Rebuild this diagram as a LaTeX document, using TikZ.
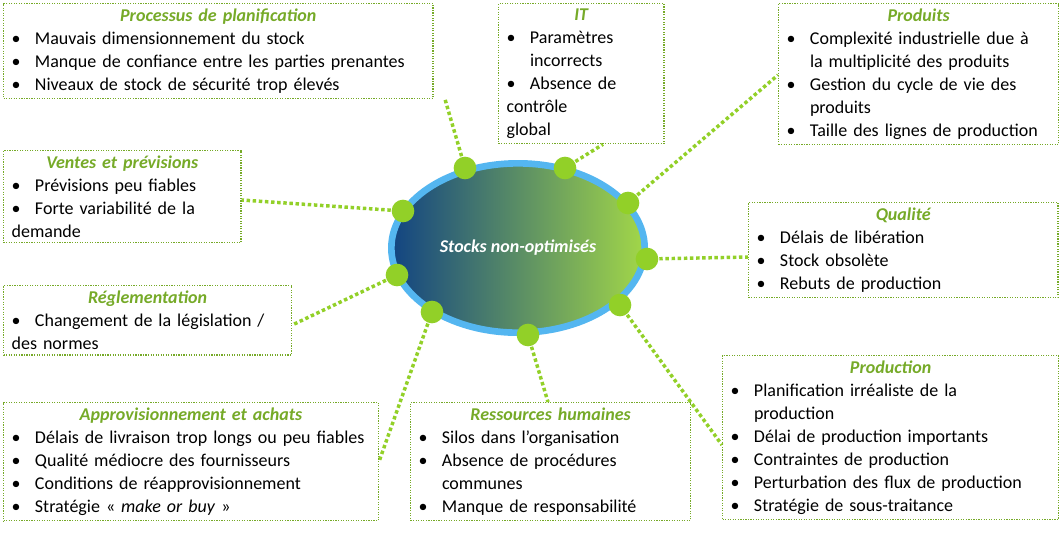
\documentclass[tikz,border=0pt]{standalone}
\usepackage{fontspec}
\setmainfont{Carlito}
\usetikzlibrary{shapes.geometric,backgrounds}
\definecolor{leaf}{RGB}{118,170,40}
\definecolor{dotgreen}{RGB}{146,208,40}
\definecolor{deepblue}{RGB}{18,68,130}
\definecolor{rimblue}{RGB}{84,182,240}
\hyphenpenalty=10000
\newcommand{\itm}[1]{\par\hangindent=1.3em\hangafter=1\noindent\makebox[1.3em][l]{\textbullet}#1}
\newcommand{\ttl}[1]{{\centering\bfseries\itshape\color{leaf}#1\par}}
\tikzset{
  box/.style={draw=leaf, densely dotted, line width=0.9pt, anchor=north west,
    inner xsep=6pt, inner ysep=4pt,
    font=\fontsize{13.5pt}{17.2pt}\selectfont,
    align=left},
  link/.style={draw=dotgreen, line width=2.6pt, dotted},
  knob/.style={circle, fill=dotgreen, minimum size=17pt, inner sep=0pt}
}
\begin{document}
\begin{tikzpicture}[x=0.75pt,y=-0.75pt]
\useasboundingbox (0,0) rectangle (1060,537);
% boxes
\node[box, text width=310pt] (plan) at (3,3) {\ttl{Processus de planification}%
  \itm{Mauvais dimensionnement du stock}\itm{Manque de confiance entre les parties prenantes}\itm{Niveaux de stock de sécurité trop élevés}};
\node[box, text width=112pt] (it) at (498,3) {\ttl{IT}%
  \itm{Paramètres incorrects}\itm{Absence de contrôle\newline global}};
\node[box, text width=198pt] (prod) at (778,3) {\ttl{Produits}%
  \itm{Complexité industrielle due à\newline la multiplicité des produits}\itm{Gestion du cycle de vie des\newline produits}\itm{Taille des lignes de production}};
\node[box, text width=166pt] (vente) at (3,150) {\ttl{Ventes et prévisions}%
  \itm{Prévisions peu fiables}\itm{Forte variabilité de la\newline demande}};
\node[box, text width=220pt] (qual) at (748,202) {\ttl{Qualité}%
  \itm{Délais de libération}\itm{Stock obsolète}\itm{Rebuts de production}};
\node[box, text width=204pt] (regl) at (3,285) {\ttl{Réglementation}%
  \itm{Changement de la législation /\newline des normes}};
\node[box, text width=269pt] (appro) at (3,402) {\ttl{Approvisionnement et achats}%
  \itm{Délais de livraison trop longs ou peu fiables}\itm{Qualité médiocre des fournisseurs}\itm{Conditions de réapprovisionnement}\itm{Stratégie « \textit{make or buy} »}};
\node[box, text width=198pt] (rh) at (410,402) {\ttl{Ressources humaines}%
  \itm{Silos dans l'organisation}\itm{Absence de procédures\newline communes}\itm{Manque de responsabilité}};
\node[box, text width=240pt] (fab) at (722,355) {\ttl{Production}%
  \itm{Planification irréaliste de la\newline production}\itm{Délai de production importants}\itm{Contraintes de production}\itm{Perturbation des flux de production}\itm{Stratégie de sous-traitance}};
% centre
\node[ellipse, draw=rimblue, line width=5pt, minimum width=190pt, minimum height=127pt,
  left color=deepblue, right color=dotgreen!85!white, text=white,
  font=\fontsize{13.5pt}{15pt}\selectfont\bfseries\itshape] (core) at (518,248) {Stocks non-optimisés};
% knobs
\node[knob] (k1) at (465,168) {};
\node[knob] (k2) at (565,168) {};
\node[knob] (k3) at (628,203) {};
\node[knob] (k4) at (647,259) {};
\node[knob] (k5) at (620,305) {};
\node[knob] (k6) at (528,335) {};
\node[knob] (k7) at (432,312) {};
\node[knob] (k8) at (397,275) {};
\node[knob] (k9) at (403,211) {};
% links
\begin{scope}[on background layer]
\draw[link] (k1.center) -- (plan.south -| 445,0);
\draw[link] (k2.center) -- (it.south -| 603,0);
\draw[link] (k3.center) -- (prod.west |- 0,75);
\draw[link] (k4.center) -- (qual.west |- 0,257);
\draw[link] (k5.center) -- (fab.west |- 0,445);
\draw[link] (k6.center) -- (rh.north -| 548,0);
\draw[link] (k7.center) -- (appro.east |- 0,462);
\draw[link] (k8.center) -- (regl.east |- 0,325);
\draw[link] (k9.center) -- (vente.east |- 0,200);
\end{scope}
\end{tikzpicture}
\end{document}
